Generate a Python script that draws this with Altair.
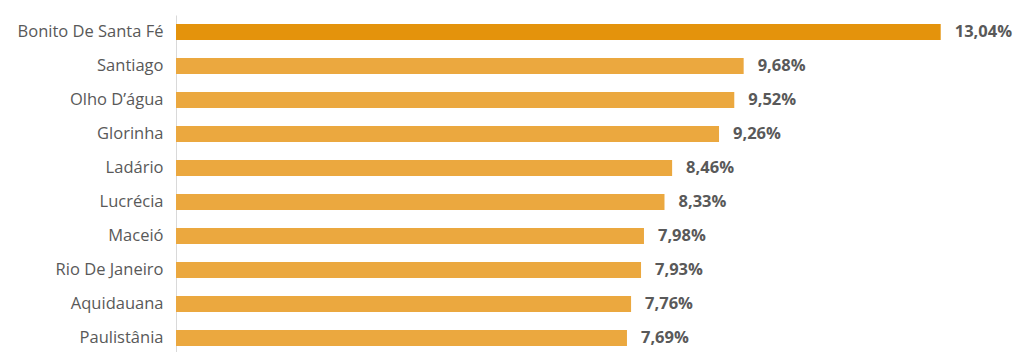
import altair as alt
import pandas as pd

cities = ["Bonito De Santa Fé", "Santiago", "Olho D’água", "Glorinha", "Ladário",
          "Lucrécia", "Maceió", "Rio De Janeiro", "Aquidauana", "Paulistânia"]
values = [13.04, 9.68, 9.52, 9.26, 8.46, 8.33, 7.98, 7.93, 7.76, 7.69]
labels = ["13,04%", "9,68%", "9,52%", "9,26%", "8,46%", "8,33%", "7,98%", "7,93%", "7,76%", "7,69%"]
highlight = [True] + [False] * 9

df = pd.DataFrame({"city": cities, "value": values, "label": labels, "hl": highlight})

y = alt.Y("city:N", sort=cities,
          scale=alt.Scale(paddingInner=0.53, paddingOuter=0.265),
          axis=alt.Axis(title=None, ticks=False, labelPadding=13, labelFontSize=16.5,
                        labelFont="Open Sans", labelColor="#595959", domainColor="#d9d9d9",
                        domainWidth=1))
x = alt.X("value:Q", scale=alt.Scale(domain=[0, 14]), axis=None)

bars = alt.Chart(df).mark_bar().encode(
    x=x, y=y,
    color=alt.Color("hl:N", scale=alt.Scale(domain=[True, False], range=["#E4930C", "#EBA83F"]), legend=None),
)

text = alt.Chart(df).mark_text(align="left", dx=14, fontSize=16.5, fontWeight="bold",
                               font="Open Sans", color="#595959").encode(
    x=x, y=alt.Y("city:N", sort=cities), text="label:N")

chart = alt.layer(bars, text).properties(
    width=821, height=340,
    autosize=alt.AutoSizeParams(type="none"),
    padding={"left": 176, "top": 15, "right": 27, "bottom": 0},
).configure_view(stroke=None)

chart.save("out.html", embed_options={"renderer": "svg", "actions": False})
